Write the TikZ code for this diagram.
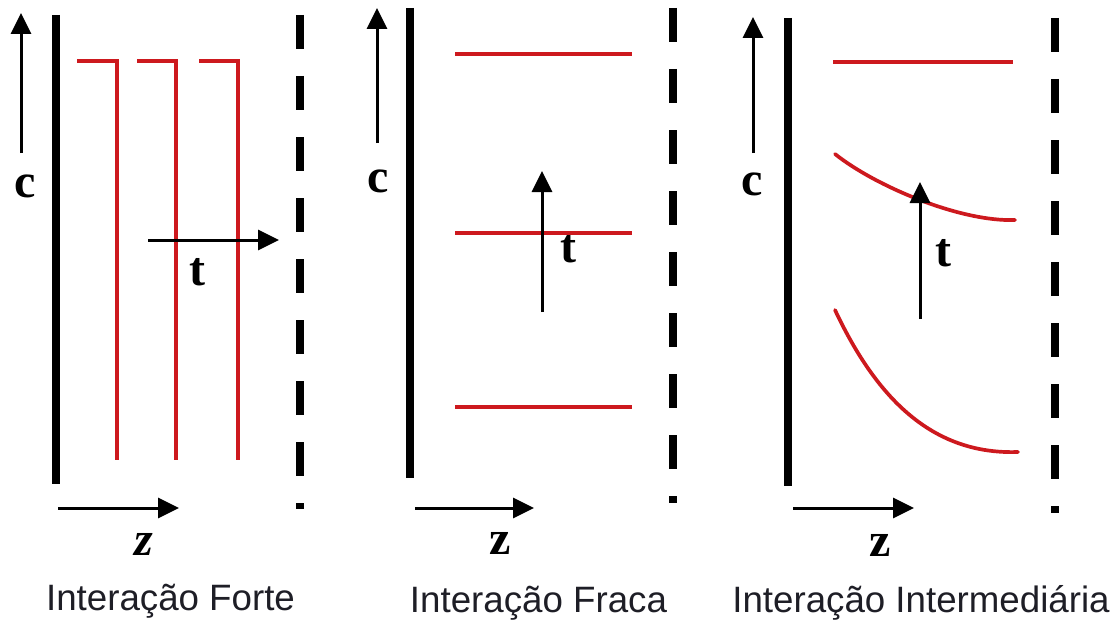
\documentclass[tikz,border=0pt]{standalone}
\usepackage{fontspec}
\setmainfont{Liberation Sans}
\newfontfamily\symfont{Liberation Serif}
\usetikzlibrary{arrows.meta}
\definecolor{redline}{RGB}{205,25,30}
\definecolor{captext}{RGB}{30,30,38}
\tikzset{
  wall/.style={line width=8pt},
  dashwall/.style={line width=8pt, dash pattern=on 34pt off 27pt},
  profile/.style={draw=redline, line width=3.7pt},
  axisarrow/.style={line width=3pt, -{Triangle[length=21pt,width=20pt]}},
  axlabel/.style={font=\symfont\bfseries\fontsize{48}{52}\selectfont, anchor=base, inner sep=0pt},
  caption/.style={font=\fontsize{36.7}{40}\selectfont, text=captext, anchor=base, inner sep=0pt},
}
\begin{document}
\begin{tikzpicture}[x=1pt,y=-1pt]
\useasboundingbox (0,0) rectangle (1118,623);

% ---------------- Panel 1: Interacao Forte ----------------
\coordinate (c1a) at (21,153);  \coordinate (c1b) at (21,13);
\coordinate (w1a) at (56,15);   \coordinate (w1b) at (56,484);
\coordinate (d1a) at (300,15);  \coordinate (d1b) at (300,509);
\coordinate (t1a) at (148,240); \coordinate (t1b) at (279,240);
\coordinate (z1a) at (58,508);  \coordinate (z1b) at (179,508);
\draw[axisarrow] (c1a) -- (c1b);
\draw[wall] (w1a) -- (w1b);
\draw[dashwall] (d1a) -- (d1b);
\draw[profile] (77,61) -- (117,61) -- (117,460);
\draw[profile] (137,61) -- (176,61) -- (176,460);
\draw[profile] (199,61) -- (238,61) -- (238,460);
\draw[axisarrow] (t1a) -- (t1b);
\draw[axisarrow] (z1a) -- (z1b);
\node[axlabel] (lc1) at (25,197) {c};
\node[axlabel] (lt1) at (197,285) {t};
\node[axlabel, font=\symfont\bfseries\itshape\fontsize{48}{52}\selectfont] (lz1) at (144,555) {z};
\node[caption] (cap1) at (170.5,610) {Interação Forte};

% ---------------- Panel 2: Interacao Fraca ----------------
\coordinate (c2a) at (377,143); \coordinate (c2b) at (377,8);
\coordinate (w2a) at (410,8);   \coordinate (w2b) at (410,478);
\coordinate (d2a) at (673,8);   \coordinate (d2b) at (673,503);
\coordinate (t2a) at (542,312); \coordinate (t2b) at (542,171);
\coordinate (z2a) at (415,508); \coordinate (z2b) at (534,508);
\draw[axisarrow] (c2a) -- (c2b);
\draw[wall] (w2a) -- (w2b);
\draw[dashwall] (d2a) -- (d2b);
\draw[profile] (455,54) -- (632,54);
\draw[profile] (455,233) -- (632,233);
\draw[profile] (455,407) -- (632,407);
\draw[axisarrow] (t2a) -- (t2b);
\draw[axisarrow] (z2a) -- (z2b);
\node[axlabel] (lc2) at (378,192) {c};
\node[axlabel] (lt2) at (568,262) {t};
\node[axlabel] (lz2) at (500,554) {z};
\node[caption] (cap2) at (538.5,612) {Interação Fraca};

% ---------------- Panel 3: Interacao Intermediaria ----------------
\coordinate (c3a) at (753,153); \coordinate (c3b) at (753,17);
\coordinate (w3a) at (788,18);  \coordinate (w3b) at (788,486);
\coordinate (d3a) at (1055,18); \coordinate (d3b) at (1055,513);
\coordinate (t3a) at (920,319); \coordinate (t3b) at (920,182);
\coordinate (z3a) at (793,508); \coordinate (z3b) at (914,508);
\draw[axisarrow] (c3a) -- (c3b);
\draw[wall] (w3a) -- (w3b);
\draw[dashwall] (d3a) -- (d3b);
\draw[profile] (833,62) -- (1013,62);
\draw[profile, line cap=round] (835,154) .. controls (875,186) and (960,222) .. (1015,220);
\draw[profile, line cap=round] (835,310) .. controls (875,395) and (930,455) .. (1018,452);
\draw[axisarrow] (t3a) -- (t3b);
\draw[axisarrow] (z3a) -- (z3b);
\node[axlabel] (lc3) at (752,195) {c};
\node[axlabel] (lt3) at (943,266) {t};
\node[axlabel] (lz3) at (880,556) {z};
\node[caption] (cap3) at (921,612) {Interação Intermediária};
\end{tikzpicture}
\end{document}
